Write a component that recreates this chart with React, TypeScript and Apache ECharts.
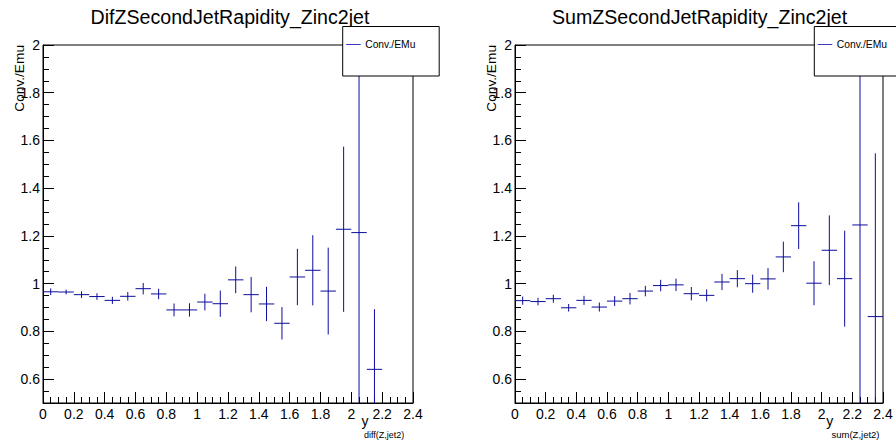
import React, { useEffect, useRef } from 'react';
import * as echarts from 'echarts';

// ---- data ----
const difBinCenters = [0.05, 0.15, 0.25, 0.35, 0.45, 0.55, 0.65, 0.75, 0.85, 0.95, 1.05, 1.15, 1.25, 1.35, 1.45, 1.55, 1.65, 1.75, 1.85, 1.95, 2.05, 2.15];
const difValues = [0.966, 0.965, 0.954, 0.946, 0.930, 0.947, 0.979, 0.957, 0.890, 0.890, 0.923, 0.916, 1.016, 0.954, 0.915, 0.834, 1.028, 1.056, 0.969, 1.228, 1.214, 0.641];
const difErrors = [0.014, 0.010, 0.014, 0.014, 0.015, 0.018, 0.024, 0.022, 0.027, 0.028, 0.035, 0.055, 0.056, 0.074, 0.072, 0.068, 0.118, 0.147, 0.182, 0.346, 1.0, 0.252];

const sumBinCenters = [0.05, 0.15, 0.25, 0.35, 0.45, 0.55, 0.65, 0.75, 0.85, 0.95, 1.05, 1.15, 1.25, 1.35, 1.45, 1.55, 1.65, 1.75, 1.85, 1.95, 2.05, 2.15, 2.25, 2.35];
const sumValues = [0.929, 0.925, 0.937, 0.899, 0.930, 0.902, 0.927, 0.937, 0.969, 0.992, 0.995, 0.958, 0.951, 1.007, 1.021, 1.000, 1.020, 1.112, 1.243, 1.002, 1.140, 1.021, 1.246, 0.862];
const sumErrors = [0.017, 0.016, 0.017, 0.016, 0.019, 0.019, 0.021, 0.024, 0.022, 0.024, 0.026, 0.028, 0.025, 0.034, 0.036, 0.038, 0.045, 0.064, 0.098, 0.092, 0.146, 0.201, 1.0, 0.684];

const yMajorTicks = [0.6, 0.8, 1, 1.2, 1.4, 1.6, 1.8, 2];
const yMinorTicks = [0.55, 0.65, 0.7, 0.75, 0.85, 0.9, 0.95, 1.05, 1.1, 1.15, 1.25, 1.3, 1.35, 1.45, 1.5, 1.55, 1.65, 1.7, 1.75, 1.85, 1.9, 1.95];

const titles = ['DifZSecondJetRapidity_Zinc2jet', 'SumZSecondJetRapidity_Zinc2jet'];
const yTitle = 'Conv./Emu';
const legendLabel = 'Conv./EMu';
const xTitleMain = 'y';
const xTitleSubs = ['diff(Z,jet2)', 'sum(Z,jet2)'];

const X_MIN = 0;
const X_MAX = 2.4;
const Y_MIN = 0.5;
const Y_MAX = 2;
const BIN_WIDTH = 0.1;

const FONT = '"Liberation Sans", Arial, Helvetica, sans-serif';
const MARK_COLOR = '#0c0c9c';

function makeSeriesData(centers: number[], values: number[], errors: number[]) {
  return centers.map((c, i) => [c, values[i], errors[i]]);
}

function renderErrorCross(params: any, api: any) {
  const x = api.value(0);
  const y = api.value(1);
  const e = api.value(2);
  const clampY = (v: number) => Math.min(Math.max(v, Y_MIN), Y_MAX);
  const p = api.coord([x, y]);
  const l = api.coord([x - BIN_WIDTH / 2, y]);
  const r = api.coord([x + BIN_WIDTH / 2, y]);
  const t = api.coord([x, clampY(y + e)]);
  const b = api.coord([x, clampY(y - e)]);
  const style = { stroke: MARK_COLOR, lineWidth: 1 };
  return {
    type: 'group',
    children: [
      { type: 'line', shape: { x1: l[0], y1: p[1], x2: r[0], y2: p[1] }, style },
      { type: 'line', shape: { x1: p[0], y1: t[1], x2: p[0], y2: b[1] }, style },
    ],
  };
}

const gridsLayout = [
  { left: 43, top: 45, width: 370, height: 358 },
  { left: 515, top: 45, width: 368, height: 358 },
];

function xAxisFor(gridIndex: number) {
  return {
    type: 'value',
    gridIndex,
    min: X_MIN,
    max: X_MAX,
    interval: 0.2,
    axisLine: { show: true, onZero: false, lineStyle: { color: '#000', width: 1 } },
    axisTick: { show: true, inside: true, length: 11, lineStyle: { color: '#000', width: 1 } },
    minorTick: { show: true, splitNumber: 4, length: 6, lineStyle: { color: '#000', width: 1 } },
    axisLabel: { show: true, color: '#000', fontSize: 14, fontFamily: FONT, margin: 4, showMinLabel: true, showMaxLabel: true },
    splitLine: { show: false },
    minorSplitLine: { show: false },
  };
}

function yAxesFor(gridIndex: number) {
  return [
    {
      type: 'value',
      gridIndex,
      position: 'left',
      min: Y_MIN,
      max: Y_MAX,
      axisLine: { show: true, onZero: false, lineStyle: { color: '#000', width: 1 } },
      axisTick: { show: true, inside: true, length: 11, customValues: yMajorTicks, lineStyle: { color: '#000', width: 1 } },
      axisLabel: { show: true, customValues: yMajorTicks, color: '#000', fontSize: 14, fontFamily: FONT, margin: 3 },
      splitLine: { show: false },
    },
    {
      type: 'value',
      gridIndex,
      position: 'left',
      offset: 0,
      min: Y_MIN,
      max: Y_MAX,
      axisLine: { show: false },
      axisTick: { show: true, inside: true, length: 6, customValues: yMinorTicks, lineStyle: { color: '#000', width: 1 } },
      axisLabel: { show: false },
      splitLine: { show: false },
    },
  ];
}

function legendGraphics(boxX: number) {
  return [
    {
      type: 'rect',
      z: 100,
      shape: { x: boxX, y: 26.5, width: 96.5, height: 49.5 },
      style: { fill: '#fff', stroke: '#000', lineWidth: 1 },
    },
    {
      type: 'line',
      z: 101,
      shape: { x1: boxX + 3.5, y1: 44.5, x2: boxX + 18, y2: 44.5 },
      style: { stroke: '#3a3ac0', lineWidth: 1 },
    },
    {
      type: 'text',
      z: 101,
      x: boxX + 22.5,
      y: 44.5,
      style: { text: legendLabel, fill: '#000', fontSize: 10.3, fontFamily: FONT, align: 'left', verticalAlign: 'middle' },
    },
  ];
}

export default function App() {
  const ref = useRef<HTMLDivElement>(null);

  useEffect(() => {
    if (!ref.current) return;
    const chart = echarts.init(ref.current, undefined, { renderer: 'svg' });

    const option: any = {
      animation: false,
      backgroundColor: '#fff',
      grid: gridsLayout.map((g) => ({ ...g, show: true, borderColor: '#000', borderWidth: 1, backgroundColor: 'transparent' })),
      xAxis: [xAxisFor(0), xAxisFor(1)],
      yAxis: [...yAxesFor(0), ...yAxesFor(1)],
      series: [
        {
          type: 'custom',
          name: legendLabel,
          xAxisIndex: 0,
          yAxisIndex: 0,
          encode: { x: 0, y: 1 },
          data: makeSeriesData(difBinCenters, difValues, difErrors),
          renderItem: renderErrorCross,
          clip: true,
        },
        {
          type: 'custom',
          name: legendLabel,
          xAxisIndex: 1,
          yAxisIndex: 2,
          encode: { x: 0, y: 1 },
          data: makeSeriesData(sumBinCenters, sumValues, sumErrors),
          renderItem: renderErrorCross,
          clip: true,
        },
      ],
      graphic: [
        // titles
        {
          type: 'text', x: 230, y: 16.5, z: 50,
          style: { text: titles[0], fill: '#000', fontSize: 19.6, fontFamily: FONT, align: 'center', verticalAlign: 'middle' },
        },
        {
          type: 'text', x: 699.5, y: 16.5, z: 50,
          style: { text: titles[1], fill: '#000', fontSize: 19.6, fontFamily: FONT, align: 'center', verticalAlign: 'middle' },
        },
        // y titles
        {
          type: 'text', x: 19, y: 45, rotation: Math.PI / 2,
          style: { text: yTitle, fill: '#000', fontSize: 13.7, fontFamily: FONT, align: 'right', verticalAlign: 'middle' },
        },
        {
          type: 'text', x: 491, y: 45, rotation: Math.PI / 2,
          style: { text: yTitle, fill: '#000', fontSize: 13.7, fontFamily: FONT, align: 'right', verticalAlign: 'middle' },
        },
        // x titles
        {
          type: 'text', x: 361.5, y: 421,
          style: { text: xTitleMain, fill: '#000', fontSize: 14, fontFamily: FONT, align: 'left', verticalAlign: 'middle' },
        },
        {
          type: 'text', x: 364, y: 434.5,
          style: { text: xTitleSubs[0], fill: '#000', fontSize: 9, fontFamily: FONT, align: 'left', verticalAlign: 'middle' },
        },
        {
          type: 'text', x: 826.3, y: 421,
          style: { text: xTitleMain, fill: '#000', fontSize: 14, fontFamily: FONT, align: 'left', verticalAlign: 'middle' },
        },
        {
          type: 'text', x: 831.5, y: 434.5,
          style: { text: xTitleSubs[1], fill: '#000', fontSize: 9.5, fontFamily: FONT, align: 'left', verticalAlign: 'middle' },
        },
        ...legendGraphics(342.7),
        ...legendGraphics(814.3),
      ],
    };

    chart.setOption(option);
    return () => chart.dispose();
  }, []);

  return (
    <div
      ref={ref}
      style={{ position: 'absolute', left: 0, top: 0, width: 896, height: 440 }}
    />
  );
}
